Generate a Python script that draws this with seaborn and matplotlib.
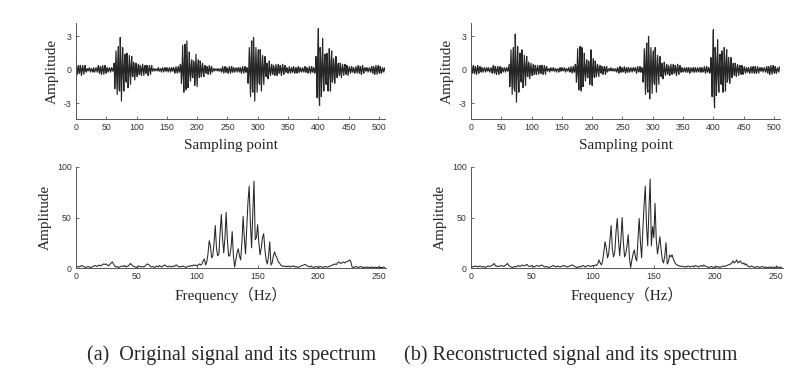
import numpy as np
import pandas as pd
import seaborn as sns
import matplotlib
matplotlib.use("Agg")
import matplotlib.pyplot as plt

# (a) original signal, 512 samples
signal_a = [
    1.2, -0.1, -0.4, 0.2, 0.4, -0.3, -0.3, 0.4, 0.2, -0.5, -0.1, 0.4, 0.0, -0.4, 0.2, 0.4,
    -0.1, -0.2, 0.1, 0.1, -0.1, 0.0, 0.2, 0.0, -0.2, 0.1, 0.1, -0.1, -0.2, 0.2, 0.0, -0.2,
    0.0, 0.2, 0.0, -0.2, 0.2, 0.4, -0.2, -0.3, 0.3, 0.2, -0.4, -0.1, 0.4, 0.0, -0.4, 0.2,
    0.4, -0.2, -0.3, 0.2, 0.1, -0.2, 0.0, 0.2, 0.0, -0.2, 0.1, 0.2, -0.1, -0.1, 0.2, 0.6,
    -1.7, -0.4, 1.7, -0.2, -2.2, 0.9, 2.1, -1.7, -1.9, 2.9, 1.0, -2.8, -0.5, 2.0, -0.2, -1.9,
    0.6, 1.4, -0.9, -1.1, 1.5, 0.6, -1.6, -0.3, 1.3, -0.1, -1.3, 0.5, 1.2, -0.5, -0.6, 0.7,
    0.4, -0.9, -0.1, 0.6, -0.1, -0.6, 0.2, 0.5, -0.4, -0.4, 0.4, 0.2, -0.5, -0.1, 0.5, 0.0,
    -0.5, 0.2, 0.4, -0.3, -0.3, 0.4, 0.2, -0.5, -0.1, 0.4, 0.0, -0.4, 0.2, 0.4, -0.1, -0.1,
    0.1, 0.1, -0.1, 0.0, 0.1, 0.0, -0.1, 0.1, 0.2, -0.1, -0.1, 0.1, 0.1, -0.2, 0.0, 0.2,
    0.0, -0.2, 0.1, 0.2, -0.1, -0.1, 0.2, 0.1, -0.2, 0.0, 0.2, 0.0, -0.2, 0.1, 0.2, -0.1,
    -0.1, 0.2, 0.1, -0.3, -0.1, 0.3, 0.0, -0.3, 0.1, 0.3, -0.2, -0.2, 0.5, 0.4, -1.2, -0.3,
    2.2, -0.2, -2.0, 0.9, 2.3, -1.5, -1.8, 2.6, 0.6, -1.6, -0.3, 1.6, -0.2, -1.0, 0.4, 0.9,
    -0.6, -0.7, 0.8, 0.6, -1.4, -0.3, 1.4, -0.1, -1.5, 0.4, 0.9, -0.6, -0.7, 0.8, 0.4, -0.6,
    -0.1, 0.6, -0.1, -0.6, 0.2, 0.4, -0.2, -0.3, 0.3, 0.2, -0.4, -0.1, 0.4, 0.0, -0.4, 0.2,
    0.3, -0.2, -0.1, 0.1, 0.1, -0.1, 0.0, 0.1, 0.0, -0.1, 0.1, 0.1, -0.1, -0.1, 0.1, 0.1,
    -0.2, -0.1, 0.3, 0.0, -0.3, 0.1, 0.3, -0.2, -0.2, 0.2, 0.1, -0.3, -0.1, 0.3, 0.0, -0.3,
    0.1, 0.3, -0.2, -0.2, 0.2, 0.1, -0.2, 0.0, 0.2, 0.0, -0.2, 0.1, 0.2, -0.1, -0.2, 0.2,
    0.1, -0.3, -0.1, 0.3, 0.0, -0.3, 0.1, 0.3, -0.2, -0.2, 0.2, 0.1, -1.2, -0.3, 2.0, -0.2,
    -2.4, 1.2, 2.6, -1.7, -2.0, 2.9, 1.1, -2.8, -0.5, 2.0, -0.2, -2.0, 0.8, 1.8, -1.1, -1.3,
    1.8, 0.8, -1.9, -0.3, 1.3, -0.1, -1.3, 0.5, 1.2, -0.5, -0.6, 0.6, 0.3, -0.8, -0.2, 0.8,
    -0.1, -0.5, 0.2, 0.5, -0.3, -0.4, 0.4, 0.2, -0.5, -0.1, 0.5, -0.1, -0.5, 0.2, 0.5, -0.3,
    -0.3, 0.4, 0.2, -0.5, -0.1, 0.5, 0.0, -0.4, 0.2, 0.4, -0.2, -0.2, 0.2, 0.1, -0.3, -0.1,
    0.3, 0.0, -0.3, 0.1, 0.2, -0.2, -0.2, 0.3, 0.1, -0.3, -0.1, 0.2, 0.0, -0.3, 0.1, 0.3,
    -0.2, -0.2, 0.2, 0.1, -0.2, -0.1, 0.2, 0.0, -0.2, 0.1, 0.3, -0.2, -0.2, 0.2, 0.1, -0.3,
    -0.1, 0.3, 0.0, -0.3, 0.1, 0.3, -0.2, -0.2, 0.2, 0.1, -0.3, -0.1, 1.2, -0.2, -2.5, 1.4,
    3.7, -2.2, -3.2, 2.0, 1.0, -2.4, -0.5, 2.8, -0.2, -1.9, 0.6, 1.4, -1.0, -1.3, 1.5, 0.8,
    -1.9, -0.4, 1.9, -0.2, -1.9, 0.8, 1.7, -1.1, -0.8, 1.0, 0.5, -1.2, -0.2, 1.2, -0.1, -0.7,
    0.3, 0.6, -0.4, -0.5, 0.6, 0.3, -0.7, -0.1, 0.5, 0.0, -0.5, 0.2, 0.5, -0.3, -0.4, 0.4,
    0.2, -0.5, -0.1, 0.3, 0.0, -0.3, 0.1, 0.3, -0.2, -0.2, 0.2, 0.1, -0.3, -0.1, 0.3, 0.0,
    -0.3, 0.2, 0.4, -0.2, -0.3, 0.3, 0.2, -0.4, -0.1, 0.4, 0.0, -0.3, 0.1, 0.2, -0.1, -0.1,
    0.2, 0.1, -0.2, 0.0, 0.2, 0.0, -0.2, 0.1, 0.3, -0.2, -0.3, 0.3, 0.2, -0.4, -0.1, 0.4,
    0.0, -0.4, 0.2, 0.4, -0.2, -0.3, 0.3, 0.1, -0.3, -0.1, 0.2, 0.0, -0.2, 0.1, 0.2, -0.1,
]

# (b) reconstructed signal, 512 samples
signal_b = [
    1.1, -0.1, -0.3, 0.2, 0.4, -0.3, -0.3, 0.3, 0.2, -0.4, -0.1, 0.4, 0.0, -0.3, 0.2, 0.3,
    -0.1, -0.2, 0.2, 0.1, -0.2, 0.0, 0.2, 0.0, -0.2, 0.1, 0.2, -0.1, -0.1, 0.2, 0.0, -0.2,
    0.0, 0.2, 0.0, -0.3, 0.2, 0.4, -0.2, -0.3, 0.3, 0.1, -0.4, -0.1, 0.3, 0.0, -0.4, 0.2,
    0.3, -0.2, -0.3, 0.2, 0.1, -0.2, 0.0, 0.2, 0.0, -0.2, 0.1, 0.2, -0.1, -0.1, 0.2, 0.5,
    -1.5, -0.4, 1.8, -0.2, -2.2, 0.9, 2.0, -1.6, -1.9, 3.2, 1.0, -2.9, -0.5, 2.1, -0.2, -2.0,
    0.6, 1.5, -0.9, -1.1, 1.8, 0.6, -1.6, -0.3, 1.3, -0.1, -1.4, 0.5, 1.2, -0.5, -0.6, 0.7,
    0.4, -0.8, -0.1, 0.6, -0.1, -0.5, 0.2, 0.5, -0.4, -0.4, 0.4, 0.2, -0.4, -0.1, 0.4, 0.0,
    -0.4, 0.2, 0.4, -0.3, -0.3, 0.4, 0.2, -0.4, -0.1, 0.4, 0.0, -0.4, 0.2, 0.3, -0.1, -0.1,
    0.1, 0.1, -0.2, 0.0, 0.2, 0.0, -0.1, 0.1, 0.2, -0.1, -0.1, 0.1, 0.1, -0.2, 0.0, 0.1,
    0.0, -0.2, 0.1, 0.2, -0.1, -0.1, 0.2, 0.1, -0.1, 0.0, 0.2, 0.0, -0.2, 0.1, 0.1, -0.1,
    -0.1, 0.2, 0.1, -0.2, -0.1, 0.3, 0.0, -0.3, 0.1, 0.3, -0.2, -0.2, 0.5, 0.4, -1.1, -0.3,
    1.9, -0.2, -1.8, 0.9, 2.1, -1.4, -1.9, 2.0, 0.6, -1.5, -0.3, 1.5, -0.2, -1.0, 0.4, 0.9,
    -0.6, -0.7, 0.8, 0.6, -1.3, -0.3, 1.8, -0.1, -1.4, 0.4, 1.0, -0.6, -0.7, 0.8, 0.4, -0.6,
    -0.1, 0.5, -0.1, -0.6, 0.2, 0.4, -0.2, -0.3, 0.3, 0.2, -0.4, -0.1, 0.3, 0.0, -0.4, 0.2,
    0.3, -0.2, -0.1, 0.1, 0.1, -0.1, 0.0, 0.2, 0.0, -0.1, 0.1, 0.1, -0.1, -0.1, 0.1, 0.1,
    -0.2, -0.1, 0.2, 0.0, -0.3, 0.1, 0.3, -0.2, -0.2, 0.2, 0.1, -0.2, -0.1, 0.3, 0.0, -0.3,
    0.1, 0.2, -0.2, -0.2, 0.2, 0.1, -0.2, 0.0, 0.2, 0.0, -0.2, 0.1, 0.2, -0.1, -0.1, 0.2,
    0.1, -0.3, -0.1, 0.3, 0.0, -0.2, 0.1, 0.3, -0.2, -0.2, 0.2, 0.1, -1.1, -0.3, 1.9, -0.2,
    -2.2, 1.2, 2.4, -1.6, -2.0, 3.0, 1.1, -2.6, -0.5, 2.0, -0.2, -2.1, 0.8, 1.7, -1.1, -1.3,
    2.0, 0.8, -2.0, -0.3, 1.3, -0.1, -1.3, 0.5, 1.2, -0.5, -0.6, 0.6, 0.3, -0.8, -0.2, 0.7,
    -0.1, -0.5, 0.2, 0.5, -0.3, -0.4, 0.4, 0.2, -0.5, -0.1, 0.5, -0.1, -0.4, 0.2, 0.5, -0.3,
    -0.3, 0.4, 0.2, -0.5, -0.1, 0.5, 0.0, -0.4, 0.2, 0.4, -0.2, -0.2, 0.2, 0.1, -0.2, -0.1,
    0.2, 0.0, -0.2, 0.1, 0.2, -0.2, -0.2, 0.2, 0.1, -0.3, -0.1, 0.2, 0.0, -0.2, 0.1, 0.2,
    -0.2, -0.2, 0.2, 0.1, -0.2, -0.1, 0.2, 0.0, -0.2, 0.1, 0.2, -0.2, -0.2, 0.2, 0.1, -0.2,
    -0.1, 0.3, 0.0, -0.3, 0.1, 0.3, -0.2, -0.2, 0.2, 0.1, -0.3, -0.1, 1.1, -0.2, -2.4, 1.3,
    3.6, -2.1, -3.4, 2.0, 1.0, -2.3, -0.5, 2.7, -0.2, -2.0, 0.6, 1.4, -1.0, -1.3, 1.7, 0.8,
    -2.0, -0.4, 2.0, -0.2, -1.9, 0.8, 1.8, -1.1, -0.8, 1.1, 0.5, -1.2, -0.2, 1.1, -0.1, -0.7,
    0.3, 0.6, -0.4, -0.5, 0.6, 0.3, -0.6, -0.1, 0.5, 0.0, -0.5, 0.2, 0.4, -0.3, -0.4, 0.4,
    0.2, -0.4, -0.1, 0.3, 0.0, -0.3, 0.1, 0.2, -0.2, -0.2, 0.2, 0.1, -0.3, -0.1, 0.3, 0.0,
    -0.3, 0.2, 0.3, -0.2, -0.3, 0.3, 0.1, -0.3, -0.1, 0.3, 0.0, -0.3, 0.1, 0.2, -0.1, -0.1,
    0.2, 0.1, -0.2, 0.0, 0.2, 0.0, -0.2, 0.1, 0.3, -0.2, -0.3, 0.3, 0.2, -0.4, -0.1, 0.4,
    0.0, -0.4, 0.2, 0.4, -0.2, -0.3, 0.3, 0.1, -0.3, -0.1, 0.2, 0.0, -0.2, 0.2, 0.3, 0.2,
]

# (a) spectrum, 0..255 Hz
spectrum_a = [
    0.5, 1.0, 1.5, 1.0, 2.0, 2.5, 1.5, 1.0, 0.5, 1.0, 1.5, 1.0, 0.5, 1.0, 1.5, 2.0,
    2.5, 1.5, 2.0, 3.0, 2.0, 2.5, 3.5, 4.0, 3.5, 4.0, 3.0, 2.0, 3.5, 5.0, 6.0, 4.0,
    2.0, 1.0, 1.5, 0.5, 1.0, 1.5, 2.0, 1.5, 2.5, 1.0, 1.5, 2.0, 3.0, 4.5, 3.0, 2.0,
    1.5, 1.0, 0.5, 1.0, 2.0, 1.5, 1.0, 1.5, 1.0, 2.0, 3.0, 4.0, 3.5, 2.0, 1.0, 1.5,
    1.0, 0.5, 1.5, 2.0, 1.0, 2.5, 1.5, 1.0, 2.0, 3.0, 2.5, 1.5, 1.0, 2.0, 1.5, 1.0,
    2.0, 1.5, 2.5, 3.0, 2.0, 1.0, 1.5, 1.0, 2.0, 1.5, 1.0, 0.5, 1.5, 2.0, 1.5, 2.5,
    2.0, 3.0, 2.5, 3.0, 2.0, 3.0, 4.0, 3.0, 4.0, 7.0, 9.0, 3.0, 6.0, 14.0, 27.0, 22.0,
    10.0, 12.0, 25.0, 42.0, 20.0, 12.0, 14.0, 35.0, 53.0, 30.0, 15.0, 30.0, 55.0, 28.0, 12.0, 12.0,
    20.0, 36.0, 12.0, 1.0, 8.0, 15.0, 19.0, 12.0, 8.0, 25.0, 51.0, 30.0, 14.0, 40.0, 65.0, 81.0,
    45.0, 20.0, 55.0, 86.0, 28.0, 30.0, 43.0, 25.0, 13.0, 20.0, 30.0, 34.0, 18.0, 8.0, 4.0, 12.0,
    26.0, 3.0, 5.0, 12.0, 16.0, 12.0, 10.0, 6.0, 5.0, 3.0, 2.0, 2.0, 1.5, 2.0, 1.0, 2.0,
    1.5, 1.0, 2.0, 1.5, 2.0, 1.0, 1.5, 0.5, 1.0, 1.5, 2.0, 2.5, 3.0, 3.5, 3.0, 2.0,
    1.5, 1.0, 2.0, 1.0, 0.5, 1.0, 1.5, 1.0, 0.5, 1.0, 1.5, 1.0, 0.5, 1.0, 1.5, 1.0,
    1.0, 1.5, 2.0, 2.5, 3.0, 3.5, 4.0, 3.5, 5.0, 6.0, 5.0, 4.5, 5.5, 6.0, 5.0, 6.0,
    6.5, 7.0, 8.0, 6.0, 1.0, 0.5, 1.0, 1.5, 1.0, 0.5, 1.0, 1.5, 1.0, 0.5, 0.5, 1.0,
    0.5, 1.0, 0.5, 0.5, 1.0, 0.5, 0.5, 1.0, 0.5, 0.5, 1.0, 0.5, 0.5, 0.5, 1.0, 0.5,
]

# (b) spectrum, 0..255 Hz
spectrum_b = [
    0.5, 1.0, 1.5, 1.5, 2.0, 1.5, 1.0, 2.0, 1.5, 1.0, 1.5, 1.0, 0.5, 1.5, 2.0, 1.5,
    2.0, 2.5, 3.0, 4.5, 2.5, 1.5, 2.0, 1.5, 2.0, 2.5, 2.0, 1.5, 2.5, 3.5, 4.5, 2.5,
    1.5, 1.0, 0.5, 1.0, 1.5, 1.0, 2.0, 2.5, 1.5, 2.0, 3.0, 2.5, 2.0, 3.0, 3.5, 2.0,
    1.5, 2.0, 2.5, 1.5, 1.0, 2.0, 2.5, 2.0, 1.5, 2.5, 3.0, 2.0, 1.5, 1.0, 1.5, 1.0,
    0.5, 1.0, 1.5, 2.5, 2.0, 1.5, 1.0, 2.0, 1.5, 1.0, 1.5, 2.0, 2.5, 2.0, 1.5, 1.0,
    1.5, 2.0, 2.5, 3.0, 2.5, 1.5, 1.0, 0.5, 1.0, 1.5, 1.0, 2.0, 2.5, 1.5, 1.0, 2.0,
    2.5, 2.0, 1.5, 2.0, 2.5, 2.0, 3.0, 2.5, 4.0, 8.0, 5.0, 3.0, 7.0, 16.0, 26.0, 20.0,
    10.0, 14.0, 28.0, 42.0, 18.0, 11.0, 16.0, 36.0, 49.0, 28.0, 12.0, 28.0, 50.0, 26.0, 11.0, 14.0,
    22.0, 33.0, 10.0, 0.5, 8.0, 14.0, 18.0, 10.0, 7.0, 28.0, 49.0, 26.0, 10.0, 38.0, 62.0, 81.0,
    42.0, 22.0, 58.0, 88.0, 22.0, 41.0, 30.0, 64.0, 28.0, 14.0, 22.0, 31.0, 18.0, 8.0, 5.0, 12.0,
    25.0, 4.0, 6.0, 13.0, 11.0, 13.0, 9.0, 6.0, 4.0, 3.0, 2.5, 2.0, 1.5, 2.0, 1.5, 1.0,
    1.5, 1.0, 2.0, 1.5, 1.0, 1.5, 2.0, 1.0, 2.5, 2.0, 1.5, 1.0, 2.0, 2.5, 1.5, 3.0,
    2.0, 1.5, 1.0, 0.5, 1.0, 1.5, 1.0, 0.5, 1.0, 1.5, 1.0, 1.5, 0.5, 1.0, 1.5, 2.0,
    1.5, 2.0, 2.5, 3.0, 3.5, 4.0, 5.0, 7.0, 5.0, 6.0, 8.0, 5.0, 6.0, 7.0, 5.0, 4.0,
    5.0, 3.0, 4.0, 2.0, 1.5, 1.0, 2.0, 1.5, 1.0, 0.5, 1.0, 1.5, 1.0, 0.5, 1.0, 1.5,
    1.0, 0.5, 1.0, 0.5, 0.5, 1.0, 0.5, 1.0, 0.5, 0.5, 1.0, 1.5, 0.5, 0.5, 1.0, 0.5,
]

signal_ticks = [0, 50, 100, 150, 200, 250, 300, 350, 400, 450, 500]
signal_yticks = [-3, 0, 3]
freq_ticks = [0, 50, 100, 150, 200, 250]
freq_yticks = [0, 50, 100]
captions = ["(a)  Original signal and its spectrum",
            "(b) Reconstructed signal and its spectrum"]

sns.set_style("ticks")
plt.rcParams["font.family"] = ["Liberation Sans", "DejaVu Sans"]
plt.rcParams["axes.unicode_minus"] = False

SERIF = ["Liberation Serif", "Noto Sans CJK SC", "DejaVu Serif"]
LINE = "#262626"
AX = "#555555"


def style_axes(ax):
    sns.despine(ax=ax)
    for s in ["left", "bottom"]:
        ax.spines[s].set_color(AX)
        ax.spines[s].set_linewidth(0.7)
    ax.tick_params(direction="in", length=2, width=0.6, color=AX,
                   labelsize=6.3, labelcolor="#333333", pad=3)


def draw_signal(ax, sig):
    df = pd.DataFrame({"n": np.arange(len(sig)), "amp": sig})
    sns.lineplot(data=df, x="n", y="amp", ax=ax, color=LINE, linewidth=0.85,
                 estimator=None)
    ax.set_xlim(0, 510)
    ax.set_ylim(-4.4, 4.2)
    ax.set_xticks(signal_ticks)
    ax.set_yticks(signal_yticks)
    ax.set_xlabel("Sampling point", family=SERIF, fontsize=11, labelpad=5)
    ax.set_ylabel("Amplitude", family=SERIF, fontsize=11, labelpad=4)
    style_axes(ax)


def draw_spectrum(ax, spec):
    df = pd.DataFrame({"f": np.arange(len(spec)), "amp": spec})
    sns.lineplot(data=df, x="f", y="amp", ax=ax, color=LINE, linewidth=0.75,
                 estimator=None)
    ax.set_xlim(0, 256)
    ax.set_ylim(0, 100)
    ax.set_xticks(freq_ticks)
    ax.set_yticks(freq_yticks)
    ax.set_xlabel("Frequency（Hz）", family=SERIF, fontsize=11, labelpad=4)
    ax.set_ylabel("Amplitude", family=SERIF, fontsize=11, labelpad=4)
    style_axes(ax)


fig = plt.figure(figsize=(8.09, 3.87), dpi=100)
W, H = 809.0, 387.0

ax1 = fig.add_axes([76 / W, 1 - 119 / H, 309 / W, 96 / H])
ax2 = fig.add_axes([76 / W, 1 - 268 / H, 310 / W, 101 / H])
ax3 = fig.add_axes([471 / W, 1 - 119 / H, 309 / W, 96 / H])
ax4 = fig.add_axes([471 / W, 1 - 268 / H, 312 / W, 101 / H])

draw_signal(ax1, signal_a)
draw_spectrum(ax2, spectrum_a)
draw_signal(ax3, signal_b)
draw_spectrum(ax4, spectrum_b)

fig.text(232 / W, 1 - 355 / H, captions[0], family=SERIF, fontsize=14.5,
         ha="center", va="center")
fig.text(571 / W, 1 - 355 / H, captions[1], family=SERIF, fontsize=14.5,
         ha="center", va="center")

fig.savefig("out.png", dpi=100)
